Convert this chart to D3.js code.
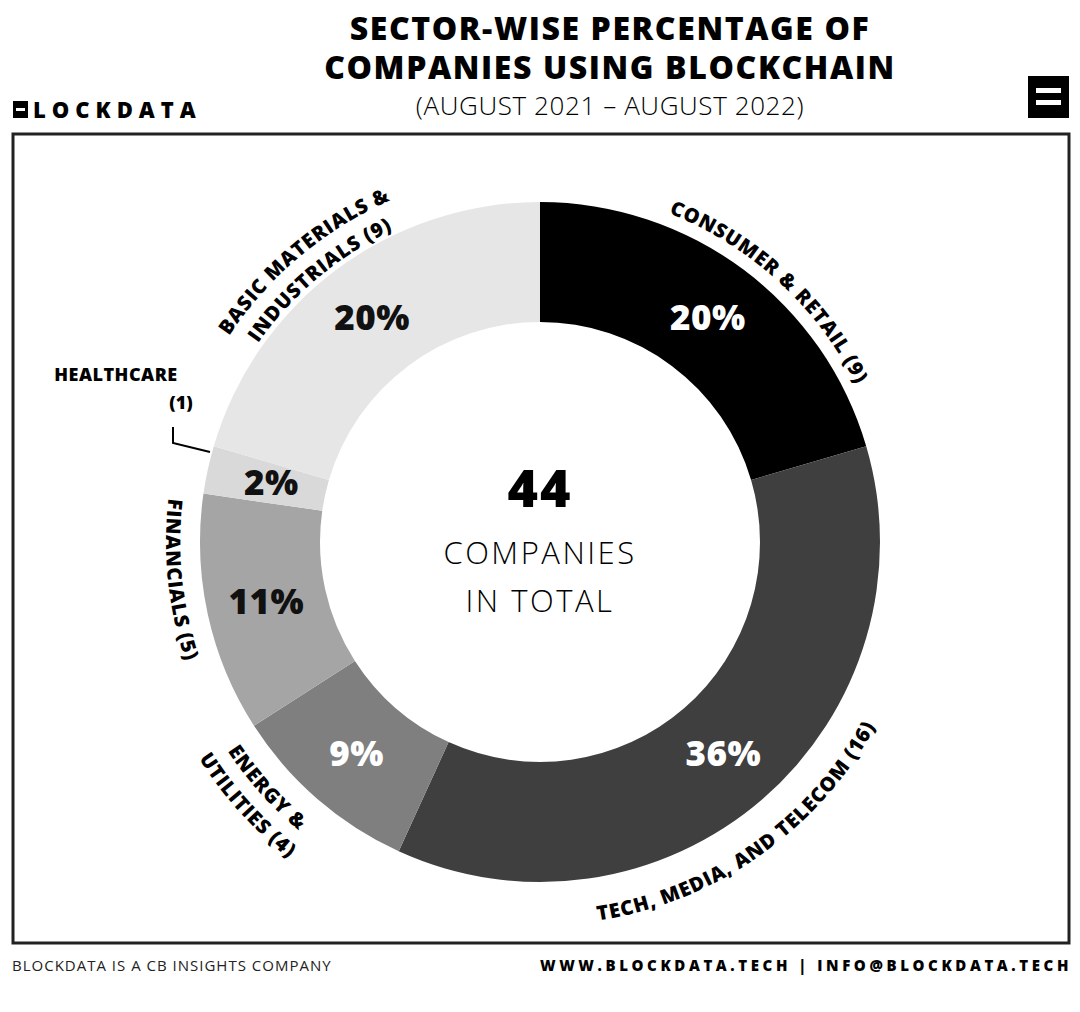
<!DOCTYPE html>
<html><head><meta charset="utf-8">
<script src="https://cdn.jsdelivr.net/npm/d3@7"></script>
<style>body{margin:0;background:#fff}text{font-family:"Open Sans",sans-serif}</style>
</head><body><div id="chart"></div>
<script>
// data
const sectors = ["CONSUMER & RETAIL", "TECH, MEDIA, AND TELECOM", "ENERGY & UTILITIES", "FINANCIALS", "HEALTHCARE", "BASIC MATERIALS & INDUSTRIALS"];
const counts = [9, 16, 4, 5, 1, 9];
const shares = ["20%", "36%", "9%", "11%", "2%", "20%"];
const fills = ["#000000", "#3f3f3f", "#7f7f7f", "#a5a5a5", "#d9d9d9", "#e6e6e6"];
const pctColors = ["#fff", "#fff", "#fff", "#111", "#111", "#111"];
const total = 44;

var width = 1080, height = 1012,
    cx = 540, cy = 542,
    outR = 340, inR = 220;

const svg = d3.select("#chart").append("svg")
  .attr("width", width).attr("height", height);

// titles
svg.append("text").attr("x", 610).attr("y", 40).attr("text-anchor", "middle")
  .attr("font-size", 32).attr("font-weight", 800).attr("letter-spacing", 1.6).text("SECTOR-WISE PERCENTAGE OF");
svg.append("text").attr("x", 610).attr("y", 79).attr("text-anchor", "middle")
  .attr("font-size", 32).attr("font-weight", 800).attr("letter-spacing", 1.6).text("COMPANIES USING BLOCKCHAIN");
svg.append("text").attr("x", 610).attr("y", 115).attr("text-anchor", "middle")
  .attr("font-size", 26).attr("font-weight", 300).attr("letter-spacing", 0.6).text("(AUGUST 2021 – AUGUST 2022)");

// left logo
svg.append("rect").attr("x", 13).attr("y", 101).attr("width", 15).attr("height", 17).attr("fill", "#000");
svg.append("rect").attr("x", 16).attr("y", 108).attr("width", 9).attr("height", 3).attr("fill", "#fff");
svg.append("text").attr("x", 33).attr("y", 118).attr("font-size", 22).attr("font-weight", 800)
  .attr("letter-spacing", 6).text("LOCKDATA");

// right logo
svg.append("rect").attr("x", 1028).attr("y", 76).attr("width", 41).attr("height", 42).attr("fill", "#000");
[88, 100].forEach(y => svg.append("rect").attr("x", 1036).attr("y", y).attr("width", 25).attr("height", 5).attr("fill", "#fff"));

// frame
svg.append("rect").attr("x", 13).attr("y", 134).attr("width", 1056).attr("height", 809)
  .attr("fill", "none").attr("stroke", "#222").attr("stroke-width", 3);

const pie = d3.pie().value(d => d).sort(null)(counts);
const arc = d3.arc().innerRadius(inR).outerRadius(outR);
const g = svg.append("g").attr("transform", `translate(${cx},${cy})`);

g.selectAll("path.slice").data(pie).join("path")
  .attr("class", "slice").attr("d", arc).attr("fill", (d, i) => fills[i]);

const mid = d3.arc().innerRadius(280).outerRadius(280);
g.selectAll("text.pct").data(pie).join("text")
  .attr("class", "pct")
  .attr("transform", (d, i) => {
    const c = mid.centroid(d);
    if (i === 4) c[0] += 5;
    return `translate(${c})`;
  })
  .attr("text-anchor", "middle").attr("dy", "0.36em")
  .attr("font-size", 35).attr("font-weight", 800).attr("letter-spacing", 0.5)
  .attr("fill", (d, i) => pctColors[i]).text((d, i) => shares[i]);

// center
g.append("text").attr("y", -54).attr("text-anchor", "middle").attr("font-size", 52)
  .attr("font-weight", 800).attr("dy", "0.36em").attr("letter-spacing", 2).text(total);
g.append("text").attr("y", 22).attr("text-anchor", "middle").attr("font-size", 31)
  .attr("font-weight", 300).attr("letter-spacing", 2.5).text("COMPANIES");
g.append("text").attr("y", 70).attr("text-anchor", "middle").attr("font-size", 31)
  .attr("font-weight", 300).attr("letter-spacing", 2.5).text("IN TOTAL");

// curved labels: angle in degrees clockwise from top
const defs = svg.append("defs");
function pt(r, a) {
  const t = a * Math.PI / 180;
  return [r * Math.sin(t), -r * Math.cos(t)];
}
function curved(id, txt, r, a0, a1) {
  const p0 = pt(r, a0), p1 = pt(r, a1);
  const sweep = a1 > a0 ? 1 : 0;
  defs.append("path").attr("id", id)
    .attr("d", `M${p0[0]},${p0[1]} A${r},${r} 0 0 ${sweep} ${p1[0]},${p1[1]}`);
  g.append("text").attr("font-size", 20).attr("font-weight", 800).attr("letter-spacing", 0.8)
    .append("textPath").attr("href", "#" + id)
    .attr("startOffset", "50%").attr("text-anchor", "middle").text(txt);
}
curved("lc", "CONSUMER & RETAIL (9)", 353, -10, 95);
curved("lt", "TECH, MEDIA, AND TELECOM (16)", 383, 210, 80);
curved("lf", "FINANCIALS (5)", 374, 300, 228);
curved("le1", "ENERGY &", 376, 260, 196);
curved("le2", "UTILITIES (4)", 404, 260, 196);
curved("lb1", "BASIC MATERIALS &", 373, -80, 0);
curved("lb2", "INDUSTRIALS (9)", 345, -80, 0);

// healthcare callout
svg.append("text").attr("x", 116).attr("y", 381).attr("text-anchor", "middle")
  .attr("font-size", 18).attr("font-weight", 800).attr("letter-spacing", 0.5).text("HEALTHCARE");
svg.append("text").attr("x", 181).attr("y", 409).attr("text-anchor", "middle")
  .attr("font-size", 18).attr("font-weight", 800).text("(1)");
svg.append("path").attr("d", "M173,427 L173,443 L210,452")
  .attr("fill", "none").attr("stroke", "#000").attr("stroke-width", 2);

// footer
svg.append("text").attr("x", 12).attr("y", 971).attr("font-size", 15).attr("fill", "#222")
  .attr("letter-spacing", 1).text("BLOCKDATA IS A CB INSIGHTS COMPANY");
svg.append("text").attr("x", 1072).attr("y", 971).attr("text-anchor", "end")
  .attr("font-size", 15).attr("font-weight", 800).attr("letter-spacing", 3.6)
  .text("WWW.BLOCKDATA.TECH | INFO@BLOCKDATA.TECH");
</script></body></html>
